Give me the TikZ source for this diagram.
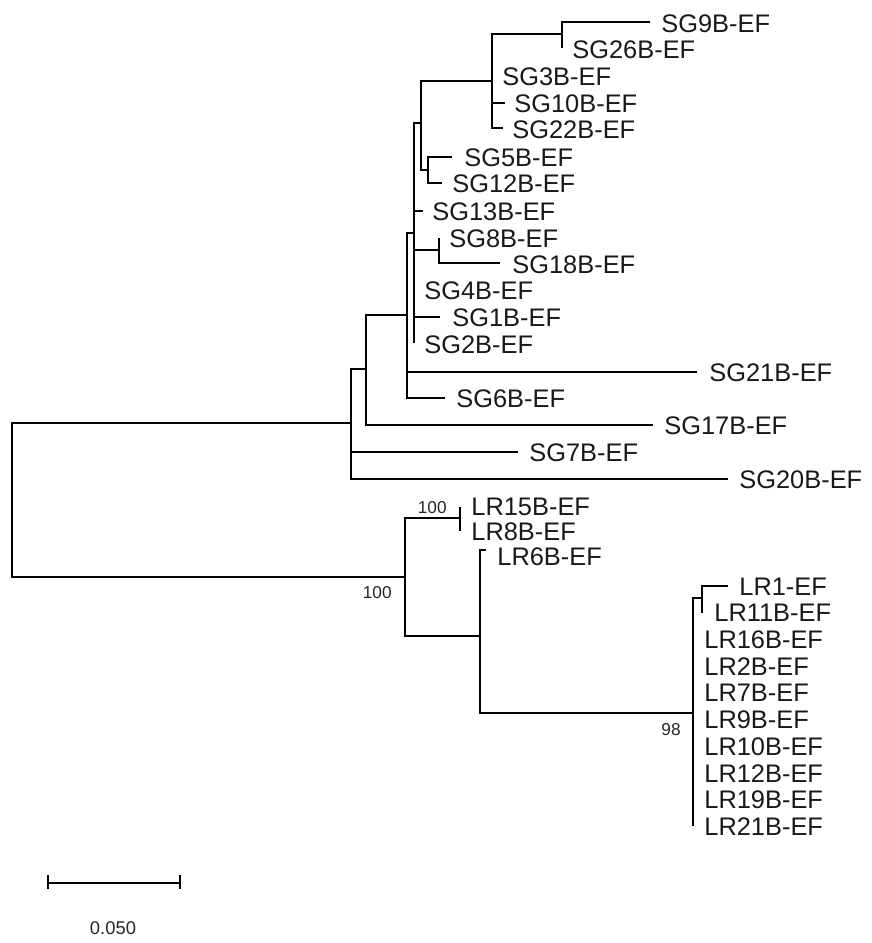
\documentclass[tikz,border=0pt]{standalone}
\usepackage{fontspec}
\setmainfont{Liberation Sans}
\begin{document}
\begin{tikzpicture}[x=0.5pt,y=-0.5pt,
  br/.style={line width=1pt, line join=miter},
  leaflab/.style={anchor=west, inner sep=0pt, text=black!90, font=\fontsize{12.7}{14}\selectfont},
  boot/.style={anchor=east, inner sep=0pt, text=black!85, font=\fontsize{8.6}{10}\selectfont}]
\useasboundingbox (0,0) rectangle (872,943);
% internal nodes
\coordinate (R) at (12,500);
\coordinate (A) at (351,423);
\coordinate (B) at (366,369);
\coordinate (C) at (407,315);
\coordinate (D) at (414,233);
\coordinate (E) at (421,123);
\coordinate (F) at (492,81);
\coordinate (H) at (562,34);
\coordinate (G) at (428,170);
\coordinate (I) at (439,250);
\coordinate (J) at (405,577);
\coordinate (L) at (460,518);
\coordinate (K) at (480,636);
\coordinate (M) at (693,713);
\coordinate (N) at (702,598);
% leaf tips
\coordinate (tSG9) at (650,22);
\coordinate (tSG26) at (562,48);
\coordinate (tSG3) at (492,75);
\coordinate (tSG10) at (505,103);
\coordinate (tSG22) at (503,128);
\coordinate (tSG5) at (452,157);
\coordinate (tSG12) at (442,183);
\coordinate (tSG13) at (423,211);
\coordinate (tSG8) at (439,238);
\coordinate (tSG18) at (500,263);
\coordinate (tSG4) at (414,290);
\coordinate (tSG1) at (440,317);
\coordinate (tSG2) at (414,343);
\coordinate (tSG21) at (697,372);
\coordinate (tSG6) at (445,398);
\coordinate (tSG17) at (653,425);
\coordinate (tSG7) at (518,452);
\coordinate (tSG20) at (728,479);
\coordinate (tLR15) at (460,507);
\coordinate (tLR8) at (460,531);
\coordinate (tLR6) at (486,550);
\coordinate (tLR1) at (728,586);
\coordinate (tLR11) at (702,613);
\coordinate (tLR16) at (693,640);
\coordinate (tLR2) at (693,667);
\coordinate (tLR7) at (693,693);
\coordinate (tLR9) at (693,720);
\coordinate (tLR10) at (693,747);
\coordinate (tLR12) at (693,773);
\coordinate (tLR19) at (693,800);
\coordinate (tLR21) at (693,826);
% labels
\node[leaflab] (lSG9) at (661,24) {SG9B-EF};
\node[leaflab] (lSG26) at (572,50) {SG26B-EF};
\node[leaflab] (lSG3) at (502,77) {SG3B-EF};
\node[leaflab] (lSG10) at (514,104) {SG10B-EF};
\node[leaflab] (lSG22) at (512,130) {SG22B-EF};
\node[leaflab] (lSG5) at (464,158) {SG5B-EF};
\node[leaflab] (lSG12) at (452,184) {SG12B-EF};
\node[leaflab] (lSG13) at (432,212) {SG13B-EF};
\node[leaflab] (lSG8) at (449,239) {SG8B-EF};
\node[leaflab] (lSG18) at (512,265) {SG18B-EF};
\node[leaflab] (lSG4) at (424,291) {SG4B-EF};
\node[leaflab] (lSG1) at (452,318) {SG1B-EF};
\node[leaflab] (lSG2) at (424,345) {SG2B-EF};
\node[leaflab] (lSG21) at (709,373) {SG21B-EF};
\node[leaflab] (lSG6) at (456,399) {SG6B-EF};
\node[leaflab] (lSG17) at (664,426) {SG17B-EF};
\node[leaflab] (lSG7) at (529,453) {SG7B-EF};
\node[leaflab] (lSG20) at (739,480) {SG20B-EF};
\node[leaflab] (lLR15) at (471,507) {LR15B-EF};
\node[leaflab] (lLR8) at (471,532) {LR8B-EF};
\node[leaflab] (lLR6) at (497,557) {LR6B-EF};
\node[leaflab] (lLR1) at (739,587) {LR1-EF};
\node[leaflab] (lLR11) at (714,613) {LR11B-EF};
\node[leaflab] (lLR16) at (704,640) {LR16B-EF};
\node[leaflab] (lLR2) at (704,667) {LR2B-EF};
\node[leaflab] (lLR7) at (704,693) {LR7B-EF};
\node[leaflab] (lLR9) at (704,720) {LR9B-EF};
\node[leaflab] (lLR10) at (704,747) {LR10B-EF};
\node[leaflab] (lLR12) at (704,774) {LR12B-EF};
\node[leaflab] (lLR19) at (704,800) {LR19B-EF};
\node[leaflab] (lLR21) at (704,827) {LR21B-EF};
% branches
\draw[br] (R) |- (A) (R) |- (J);
\draw[br] (A) |- (B) (A) |- (tSG7) (A) |- (tSG20);
\draw[br] (B) |- (C) (B) |- (tSG17);
\draw[br] (C) |- (D) (C) |- (tSG21) (C) |- (tSG6);
\draw[br] (D) |- (E) (D) |- (tSG13) (D) |- (I) (D) |- (tSG4) (D) |- (tSG1) (D) |- (tSG2);
\draw[br] (E) |- (F) (E) |- (G);
\draw[br] (F) |- (H) (F) |- (tSG3) (F) |- (tSG10) (F) |- (tSG22);
\draw[br] (H) |- (tSG9) (H) |- (tSG26);
\draw[br] (G) |- (tSG5) (G) |- (tSG12);
\draw[br] (I) |- (tSG8) (I) |- (tSG18);
\draw[br] (J) |- (L) (J) |- (K);
\draw[br] (L) |- (tLR15) (L) |- (tLR8);
\draw[br] (K) |- (tLR6) (K) |- (M);
\draw[br] (M) |- (N) (M) |- (tLR16) (M) |- (tLR2) (M) |- (tLR7) (M) |- (tLR9)
  (M) |- (tLR10) (M) |- (tLR12) (M) |- (tLR19) (M) |- (tLR21);
\draw[br] (N) |- (tLR1) (N) |- (tLR11);
% bootstrap values
\node[boot] (bL) at (447,508) {100};
\node[boot] (bJ) at (392,593) {100};
\node[boot] (bM) at (681,730) {98};
% scale bar
\coordinate (s1) at (48,883);
\coordinate (s2) at (180,883);
\draw[br] (s1) -- (s2);
\draw[br] ([yshift=4pt]s1) -- ([yshift=-3pt]s1);
\draw[br] ([yshift=4pt]s2) -- ([yshift=-3pt]s2);
\node[inner sep=0pt, text=black!85, font=\fontsize{9.2}{11}\selectfont] (sl) at (113,928) {0.050};
\end{tikzpicture}
\end{document}
